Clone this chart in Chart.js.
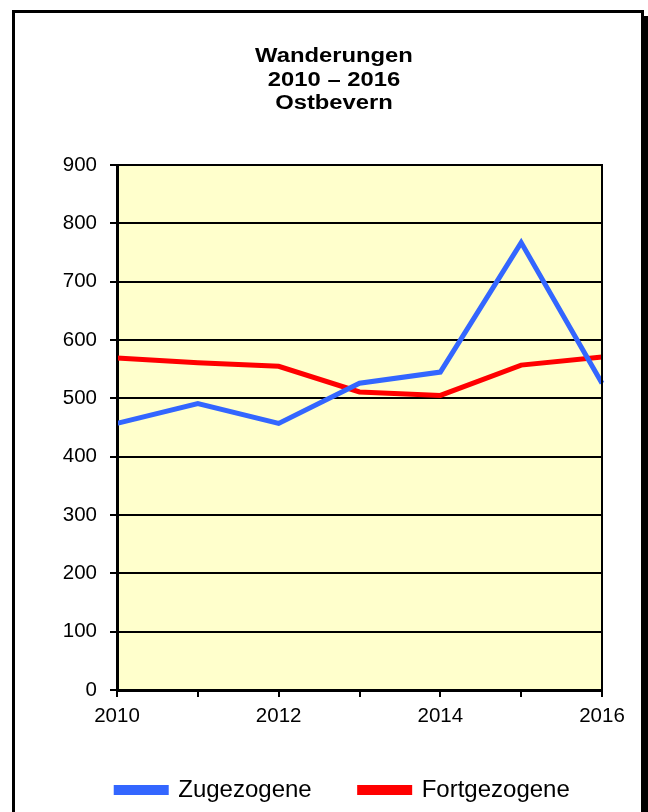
<!DOCTYPE html>
<html>
<head>
<meta charset="utf-8">
<script src="https://cdn.jsdelivr.net/npm/chart.js@4.4.1/dist/chart.umd.min.js"></script>
<style>
    html, body { margin: 0; padding: 0; background: #fff; }
    #frame {
        position: absolute; left: 12px; top: 10px; width: 626px; height: 830px;
        border: 3px solid #000; box-shadow: 5px 6px 0 #000; background: #fff;
    }
    #wrap { position: absolute; left: 0; top: 0; width: 648px; height: 812px; }
</style>
</head>
<body>
<div id="frame"></div>
<div id="wrap"><canvas id="wanderChart"></canvas></div>
<script>
const years = ['2010', '2011', '2012', '2013', '2014', '2015', '2016'];
const zugezogene = [457, 491, 457, 526, 545, 767, 526];
const fortgezogene = [569, 561, 555, 511, 505, 557, 571];
const yTicks = [0, 100, 200, 300, 400, 500, 600, 700, 800, 900];
const titleLines = ['Wanderungen', '2010 \u2013 2016', 'Ostbevern'];

const FONT = '"Liberation Sans", Arial, sans-serif';

// yellow plot background with black frame
const plotBackground = {
    id: 'plotBackground',
    beforeDraw(chart) {
        const { ctx, chartArea: a } = chart;
        ctx.save();
        ctx.fillStyle = '#FFFFCC';
        ctx.fillRect(a.left, a.top, a.right - a.left, a.bottom - a.top);
        ctx.restore();
    },
    afterDatasetsDraw(chart) {
        const { ctx, chartArea: a } = chart;
        ctx.save();
        ctx.strokeStyle = '#000';
        ctx.lineWidth = 2;
        ctx.strokeRect(a.left, a.top, a.right - a.left, a.bottom - a.top);
        ctx.restore();
    }
};

// the original title is bold and a bit stretched sideways
const wideTitle = {
    id: 'wideTitle',
    afterDraw(chart) {
        const ctx = chart.ctx;
        titleLines.forEach((line, i) => {
            ctx.save();
            ctx.translate(334, 62 + i * 23.5);
            ctx.scale(1.19, 1);
            ctx.font = 'bold 20px ' + FONT;
            ctx.fillStyle = '#000';
            ctx.textAlign = 'center';
            ctx.textBaseline = 'alphabetic';
            ctx.fillText(line, 0, 0);
            ctx.restore();
        });
    }
};

document.addEventListener('DOMContentLoaded', () => {
    const ctx = document.getElementById('wanderChart').getContext('2d');
    new Chart(ctx, {
        type: 'line',
        data: {
            labels: years,
            datasets: [
                {
                    label: 'Zugezogene',
                    data: zugezogene,
                    borderColor: '#3366FF',
                    backgroundColor: '#3366FF',
                    borderWidth: 5,
                    pointRadius: 0,
                    tension: 0,
                    clip: 3
                },
                {
                    label: 'Fortgezogene',
                    data: fortgezogene,
                    borderColor: '#FF0000',
                    backgroundColor: '#FF0000',
                    borderWidth: 5,
                    pointRadius: 0,
                    tension: 0,
                    clip: 3
                }
            ]
        },
        options: {
            responsive: true,
            maintainAspectRatio: false,
            animation: false,
            layout: { padding: { top: 165, left: 46, right: 8, bottom: 0 } },
            plugins: {
                title: { display: false },
                legend: {
                    position: 'bottom',
                    labels: {
                        color: '#000',
                        font: { family: FONT, size: 24 },
                        boxWidth: 50,
                        boxHeight: 5,
                        padding: 48
                    }
                },
                tooltip: { enabled: false }
            },
            scales: {
                x: {
                    offset: false,
                    afterFit: s => { s.height = 40; s.paddingLeft = 0; s.paddingRight = 46; },
                    grid: { drawOnChartArea: false, color: '#000', lineWidth: 2, tickLength: 7 },
                    border: { color: '#000', width: 3 },
                    ticks: {
                        color: '#000',
                        font: { family: FONT, size: 20.5 },
                        maxRotation: 0,
                        autoSkip: false,
                        padding: 7,
                        callback: (v, i) => (i % 2 === 0 ? years[i] : '')
                    }
                },
                y: {
                    min: 0,
                    max: 900,
                    afterBuildTicks: s => { s.ticks = yTicks.map(v => ({ value: v })); },
                    afterFit: s => { s.width = 71; s.paddingTop = 0; },
                    grid: { color: '#000', lineWidth: 2, tickLength: 7 },
                    border: { color: '#000', width: 3 },
                    ticks: {
                        color: '#000',
                        font: { family: FONT, size: 20.5 },
                        padding: 13
                    }
                }
            }
        },
        plugins: [plotBackground, wideTitle]
    });
});
</script>
</body>
</html>
